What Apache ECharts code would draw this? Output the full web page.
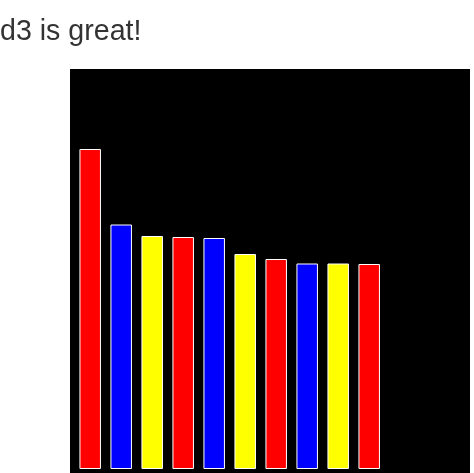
<!DOCTYPE html>
<html>
<head>
<meta charset="utf-8">
<script src="https://cdn.jsdelivr.net/npm/echarts@6/dist/echarts.min.js"></script>
<style>
html,body{margin:0;padding:0;background:#fff;}
#chart{width:474px;height:473px;}
</style>
</head>
<body>
<div id="chart"></div>
<script>
var titleText = 'd3 is great!';
var categories = ['1','2','3','4','5','6','7','8','9','10'];
var values = [320, 244.5, 233, 232, 231, 215, 210, 205.5, 205.5, 205];
var barColors = ['#ff0000', '#0000ff', '#ffff00'];

var chart = echarts.init(document.getElementById('chart'), null, {renderer: 'canvas'});
chart.setOption({
  animation: false,
  backgroundColor: '#fff',
  title: {
    text: titleText,
    left: 0,
    top: 17.5,
    padding: 0,
    textStyle: {fontFamily: 'Liberation Sans, Arial, sans-serif', fontSize: 28.6, fontWeight: 'normal', color: '#333'}
  },
  graphic: [{
    type: 'rect',
    z: -10,
    shape: {x: 70, y: 69, width: 400, height: 420},
    style: {fill: '#000'}
  }],
  grid: {left: 74.7, top: 69, width: 310, height: 400, containLabel: false},
  xAxis: {
    type: 'category',
    data: categories,
    show: false
  },
  yAxis: {
    type: 'value',
    min: 0,
    max: 400,
    show: false
  },
  series: [{
    type: 'bar',
    data: values.map(function (v, i) {
      return {value: v, itemStyle: {color: barColors[i % 3]}};
    }),
    barWidth: 21.5,
    itemStyle: {borderColor: '#ffffff', borderWidth: 1, borderOpacity: 0.8}
  }]
});
</script>
</body>
</html>
